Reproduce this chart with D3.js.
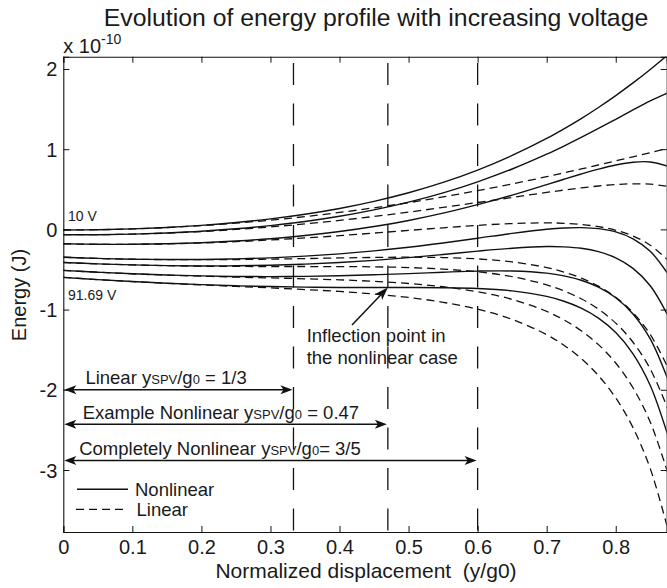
<!DOCTYPE html>
<html><head><meta charset="utf-8">
<script src="https://cdn.jsdelivr.net/npm/d3@7"></script>
<style>
body{margin:0;background:#fff}
text{font-family:"Liberation Sans",Arial,Helvetica,sans-serif;fill:#1a1a1a}
</style>
</head><body>
<svg id="c" width="667" height="588"></svg>
<script>
// ---- data (energy in units of 1e-10 J) ----
const xs   = [0,0.05,0.1,0.15,0.2,0.25,0.3,0.35,0.4,0.45,0.5,0.55,0.6,0.65,0.7,0.725,0.75,0.775,0.8,0.825,0.85,0.875];
const nl1  = [-0.007,-0.004,0.006,0.024,0.050,0.085,0.131,0.189,0.261,0.350,0.457,0.586,0.740,0.922,1.134,1.254,1.382,1.520,1.668,1.826,1.994,2.172];
const lin1 = [-0.007,-0.004,0.006,0.023,0.047,0.078,0.115,0.159,0.211,0.269,0.333,0.405,0.483,0.567,0.657,0.705,0.753,0.803,0.854,0.905,0.957,1.008];
const nl2  = [-0.066,-0.066,-0.059,-0.045,-0.024,0.007,0.047,0.098,0.163,0.243,0.339,0.455,0.593,0.753,0.938,1.039,1.146,1.258,1.373,1.489,1.601,1.700];
const lin2 = [-0.066,-0.066,-0.059,-0.046,-0.027,-0.001,0.031,0.069,0.112,0.161,0.215,0.274,0.335,0.398,0.461,0.490,0.517,0.541,0.559,0.568,0.564,0.536];
const nl3  = [-0.180,-0.186,-0.186,-0.180,-0.166,-0.145,-0.116,-0.077,-0.027,0.036,0.111,0.202,0.308,0.427,0.558,0.625,0.690,0.751,0.803,0.837,0.841,0.788];
const lin3 = [-0.180,-0.186,-0.186,-0.181,-0.169,-0.153,-0.132,-0.107,-0.078,-0.046,-0.013,0.020,0.050,0.073,0.081,0.076,0.061,0.034,-0.011,-0.083,-0.197,-0.377];
const nl4  = [-0.347,-0.362,-0.372,-0.376,-0.375,-0.368,-0.355,-0.334,-0.305,-0.268,-0.223,-0.169,-0.110,-0.050,0.001,0.017,0.022,0.009,-0.032,-0.117,-0.273,-0.548];
const lin4 = [-0.347,-0.362,-0.372,-0.377,-0.378,-0.376,-0.371,-0.364,-0.356,-0.350,-0.347,-0.351,-0.368,-0.405,-0.476,-0.532,-0.607,-0.708,-0.846,-1.038,-1.310,-1.713];
const nl5  = [-0.412,-0.430,-0.443,-0.452,-0.456,-0.454,-0.447,-0.433,-0.413,-0.386,-0.352,-0.313,-0.271,-0.235,-0.214,-0.218,-0.236,-0.278,-0.355,-0.486,-0.703,-1.065];
const lin5 = [-0.412,-0.430,-0.443,-0.453,-0.459,-0.462,-0.463,-0.463,-0.464,-0.467,-0.476,-0.495,-0.529,-0.589,-0.691,-0.767,-0.865,-0.995,-1.169,-1.407,-1.740,-2.229];
const nl6  = [-0.511,-0.534,-0.554,-0.569,-0.580,-0.587,-0.589,-0.586,-0.579,-0.566,-0.551,-0.534,-0.520,-0.519,-0.546,-0.579,-0.634,-0.720,-0.852,-1.054,-1.366,-1.860];
const lin6 = [-0.511,-0.534,-0.554,-0.570,-0.583,-0.595,-0.605,-0.616,-0.629,-0.648,-0.675,-0.715,-0.778,-0.873,-1.023,-1.128,-1.263,-1.437,-1.666,-1.975,-2.403,-3.025];
const nl7  = [-0.598,-0.626,-0.650,-0.671,-0.689,-0.703,-0.713,-0.720,-0.724,-0.725,-0.725,-0.727,-0.737,-0.767,-0.836,-0.896,-0.982,-1.107,-1.287,-1.551,-1.946,-2.556];
const lin7 = [-0.598,-0.626,-0.651,-0.672,-0.692,-0.711,-0.729,-0.750,-0.774,-0.806,-0.849,-0.909,-0.995,-1.122,-1.313,-1.445,-1.611,-1.824,-2.101,-2.472,-2.983,-3.721];
const nonlinearSeries = [nl1,nl2,nl3,nl4,nl5,nl6,nl7];
const linearSeries    = [lin1,lin2,lin3,lin4,lin5,lin6,lin7];
const voltageLabels = ["10 V","91.69 V"];
const markerX = [1/3, 0.47, 0.6];
const xTicks = [0,0.1,0.2,0.3,0.4,0.5,0.6,0.7,0.8];
const yTicks = [-3,-2,-1,0,1,2];
const spanArrows = [
  {to:1/3,  e:-2.00, label:["Linear y","SPV","/g","0"," = 1/3"], tx:0.032},
  {to:0.47, e:-2.43, label:["Example Nonlinear y","SPV","/g","0"," = 0.47"], tx:0.028},
  {to:0.6,  e:-2.88, label:["Completely Nonlinear y","SPV","/g","0","= 3/5"], tx:0.023}
];
const inflection = {x:0.47, e:-0.725};

// ---- layout ----
const svg = d3.select("#c");
const L=63.3, R=666.7, T=56.7, B=532;
const x = d3.scaleLinear().domain([0,0.8738]).range([L,R]);
const y = d3.scaleLinear().domain([-3.773,2.153]).range([B,T]);
const ink = "#111";

svg.append("rect").attr("width",667).attr("height",588).attr("fill","#fff");
svg.append("defs").append("clipPath").attr("id","clip")
  .append("rect").attr("x",L).attr("y",T).attr("width",R-L).attr("height",B-T);

// title
svg.append("text").attr("x",376).attr("y",26).attr("text-anchor","middle")
  .style("font-size","24.8px").text("Evolution of energy profile with increasing voltage");

// axes
const gB = svg.append("g").attr("transform",`translate(0,${B})`)
  .call(d3.axisBottom(x).tickValues(xTicks).tickSize(-6).tickPadding(8).tickFormat(d=>String(+d.toFixed(1))));
const gT = svg.append("g").attr("transform",`translate(0,${T})`)
  .call(d3.axisTop(x).tickValues(xTicks).tickSize(-6).tickFormat(""));
const gL = svg.append("g").attr("transform",`translate(${L},0)`)
  .call(d3.axisLeft(y).tickValues(yTicks).tickSize(-6).tickPadding(6).tickFormat(d=>String(d)));
const gR = svg.append("g").attr("transform",`translate(${R},0)`)
  .call(d3.axisRight(y).tickValues(yTicks).tickSize(-6).tickFormat(""));
[gB,gT,gL,gR].forEach(g=>{
  g.select(".domain").attr("stroke",ink).attr("stroke-width",1.1);
  g.selectAll(".tick line").attr("stroke",ink).attr("stroke-width",1);
  g.selectAll("text").style("font-size","20px").attr("fill","#1a1a1a")
   .style("font-family",'"Liberation Sans",Arial,sans-serif');
});
gB.selectAll(".tick text").attr("dy","0.71em").attr("y",8);
gL.selectAll(".tick text").attr("dy","0.35em");

// exponent
const ex = svg.append("text").attr("x",L).attr("y",52.5).style("font-size","20px");
ex.append("tspan").text("x 10");
ex.append("tspan").attr("dy",-9).style("font-size","14px").text("-10");

// axis labels
svg.append("text").attr("x",366).attr("y",578).attr("text-anchor","middle")
  .style("font-size","21px").text("Normalized displacement\u00a0 (y/g0)");
svg.append("text").attr("transform","translate(26,295) rotate(-90)").attr("text-anchor","middle")
  .style("font-size","20px").text("Energy (J)");

// vertical markers
const plot = svg.append("g").attr("clip-path","url(#clip)");
plot.selectAll("line.vm").data(markerX).join("line").attr("class","vm")
  .attr("x1",d=>x(d)).attr("x2",d=>x(d)).attr("y1",T).attr("y2",B)
  .attr("stroke",ink).attr("stroke-width",1.3)
  .attr("stroke-dasharray","22 18.5").attr("stroke-dashoffset",34.2);

// curves
const line = d3.line().x((d,i)=>x(xs[i])).y(d=>y(d)).curve(d3.curveCatmullRom.alpha(0.5));
plot.selectAll("path.lin").data(linearSeries).join("path").attr("class","lin")
  .attr("d",line).attr("fill","none").attr("stroke",ink).attr("stroke-width",1.3)
  .attr("stroke-dasharray","8 5");
plot.selectAll("path.nl").data(nonlinearSeries).join("path").attr("class","nl")
  .attr("d",line).attr("fill","none").attr("stroke",ink).attr("stroke-width",1.4);

// voltage labels
svg.append("text").attr("x",68).attr("y",y(nl1[0])-9).style("font-size","14px").text(voltageLabels[0]);
svg.append("text").attr("x",68).attr("y",y(nl7[0])+23).style("font-size","14px").text(voltageLabels[1]);

// arrowhead helper
function head(xt,yt,ang,len=12,hw=4.5){
  const c=Math.cos(ang), s=Math.sin(ang);
  const bx=xt-len*c, by=yt-len*s;
  const nx=xt-len*0.75*c, ny=yt-len*0.75*s;
  const p=[[xt,yt],[bx-hw*s,by+hw*c],[nx,ny],[bx+hw*s,by-hw*c]];
  svg.append("path").attr("d","M"+p.map(q=>q.join(",")).join("L")+"Z").attr("fill",ink);
}

// span arrows
spanArrows.forEach(a=>{
  const yy=y(a.e), x0=x(0)+1, x1=x(a.to)-1;
  svg.append("line").attr("x1",x0+6).attr("x2",x1-6).attr("y1",yy).attr("y2",yy)
    .attr("stroke",ink).attr("stroke-width",1.5);
  head(x1,yy,0); head(x0,yy,Math.PI);
  const t=svg.append("text").attr("x",x(a.tx)).attr("y",yy-5.5).style("font-size","18.5px");
  a.label.forEach((s,i)=>{
    const sp=t.append("tspan").text(s);
    if(i===1||i===3) sp.style("font-size","13px");
  });
});

// inflection annotation
const ix=x(inflection.x), iy=y(inflection.e);
const tx0=352, ty0=325;
svg.append("line").attr("x1",tx0).attr("y1",ty0).attr("x2",ix-(ix-tx0)*0.2).attr("y2",iy-(iy-ty0)*0.2)
  .attr("stroke",ink).attr("stroke-width",1.5);
head(ix,iy,Math.atan2(iy-ty0,ix-tx0),13,4.5);
svg.append("text").attr("x",306.7).attr("y",341.5).style("font-size","18.5px").text("Inflection point in");
svg.append("text").attr("x",306.7).attr("y",363.5).style("font-size","18.5px").text("the nonlinear case");

// legend
svg.append("line").attr("x1",77).attr("x2",128).attr("y1",489.3).attr("y2",489.3).attr("stroke",ink).attr("stroke-width",1.4);
svg.append("line").attr("x1",76).attr("x2",126).attr("y1",509.3).attr("y2",509.3).attr("stroke",ink).attr("stroke-width",1.3).attr("stroke-dasharray","8 5");
svg.append("text").attr("x",135).attr("y",496).style("font-size","18.5px").text("Nonlinear");
svg.append("text").attr("x",136.5).attr("y",516).style("font-size","18.5px").text("Linear");
</script>
</body></html>
